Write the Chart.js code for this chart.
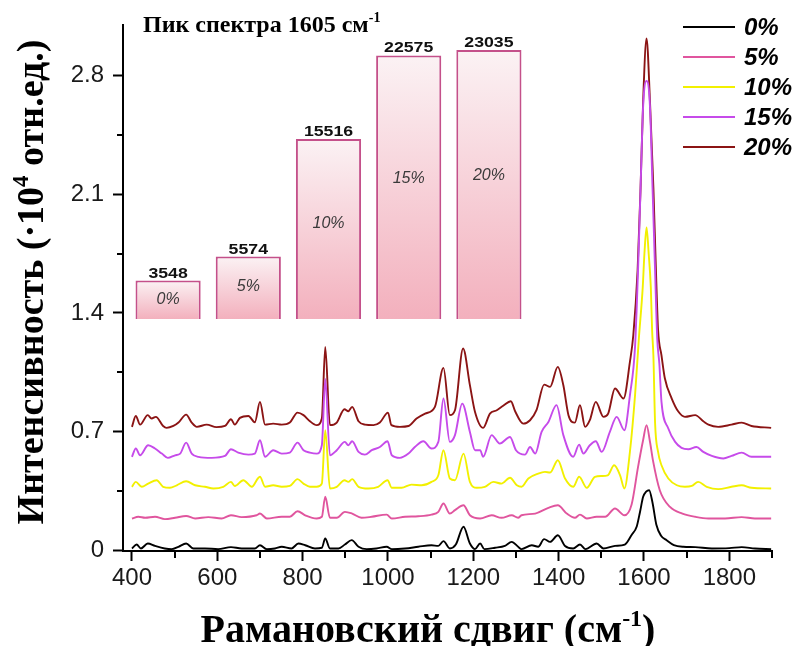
<!DOCTYPE html>
<html>
<head>
<meta charset="utf-8">
<script src="https://cdn.jsdelivr.net/npm/chart.js@4.4.1/dist/chart.umd.min.js"></script>
<style>
  html, body { margin: 0; padding: 0; background: #fff; }
  #wrap { position: relative; width: 795px; height: 646px; }
  #wrap canvas { position: absolute; left: 0; top: 0; }
</style>
</head>
<body>
<div id="wrap">
  <canvas id="spectra" width="795" height="646"></canvas>
  <canvas id="inset" width="795" height="646"></canvas>
</div>
<script>
// Raman spectra at 0..20 % with an inset bar chart of the 1605 cm-1 peak

const seriesLabels = ['0%', '5%', '10%', '15%', '20%'];
const seriesColors = ['#000000', '#E0559E', '#F2F000', '#C64BEA', '#8B1414'];

const wn0 = [400, 411, 421, 437, 454, 477, 493, 509, 527, 544, 571, 602, 632, 657, 688, 700, 716, 735, 751, 774,
  790, 806, 829, 845, 853, 864, 884, 899, 915, 931, 950, 973, 997, 1009, 1040, 1071, 1102, 1118, 1130, 1145,
  1159, 1177, 1192, 1204, 1216, 1226, 1251, 1274, 1290, 1305, 1313, 1337, 1352, 1366, 1380, 1398, 1415, 1434, 1450, 1463,
  1489, 1505, 1532, 1555, 1571, 1583, 1591, 1598, 1605, 1612, 1620, 1629, 1640, 1653, 1670, 1692, 1720, 1759, 1800, 1829,
  1860, 1898];
const int0 = [0.010, 0.033, 0.010, 0.039, 0.025, 0.010, 0.006, 0.020, 0.039, 0.010, 0.010, 0.006, 0.018, 0.010, 0.010, 0.029, 0.006, 0.010, 0.020, 0.010,
  0.039, 0.029, 0.010, 0.014, 0.069, 0.010, 0.010, 0.033, 0.059, 0.020, 0.006, 0.010, 0.020, 0.006, 0.010, 0.020, 0.029, 0.025, 0.053, 0.010,
  0.033, 0.138, 0.039, 0.006, 0.039, 0.006, 0.014, 0.025, 0.049, 0.020, 0.006, 0.029, 0.020, 0.065, 0.049, 0.088, 0.025, 0.010, 0.033, 0.006,
  0.039, 0.010, 0.025, 0.033, 0.090, 0.140, 0.230, 0.315, 0.345, 0.354, 0.280, 0.150, 0.085, 0.059, 0.030, 0.020, 0.018, 0.010, 0.012, 0.018,
  0.010, 0.006];

const wn5 = [400, 415, 431, 454, 477, 501, 527, 548, 579, 610, 632, 657, 692, 700, 716, 751, 770, 788, 806, 833,
  845, 853, 864, 880, 899, 916, 938, 962, 997, 1009, 1040, 1071, 1102, 1118, 1130, 1145, 1157, 1177, 1192, 1216,
  1243, 1266, 1290, 1305, 1313, 1345, 1376, 1398, 1419, 1438, 1450, 1466, 1489, 1509, 1532, 1554, 1571, 1586, 1598, 1606,
  1614, 1621, 1637, 1661, 1690, 1720, 1751, 1790, 1829, 1860, 1898];
const int5 = [0.187, 0.197, 0.191, 0.197, 0.183, 0.191, 0.202, 0.187, 0.195, 0.187, 0.206, 0.195, 0.206, 0.216, 0.187, 0.197, 0.197, 0.230, 0.206, 0.187,
  0.197, 0.315, 0.191, 0.191, 0.226, 0.216, 0.191, 0.197, 0.210, 0.187, 0.197, 0.200, 0.210, 0.226, 0.275, 0.216, 0.236, 0.265, 0.206, 0.187,
  0.206, 0.191, 0.206, 0.191, 0.206, 0.216, 0.250, 0.265, 0.216, 0.191, 0.210, 0.187, 0.197, 0.197, 0.246, 0.206, 0.270, 0.490, 0.650, 0.738,
  0.640, 0.530, 0.354, 0.255, 0.216, 0.197, 0.187, 0.187, 0.195, 0.187, 0.187];

const wn10 = [400, 409, 423, 438, 458, 473, 489, 505, 527, 548, 571, 591, 614, 632, 641, 661, 681, 695, 700, 712,
  731, 751, 770, 788, 802, 817, 833, 845, 853, 864, 880, 898, 907, 916, 931, 954, 977, 999, 1009, 1032,
  1055, 1079, 1102, 1118, 1130, 1145, 1157, 1177, 1192, 1208, 1227, 1247, 1266, 1286, 1302, 1313, 1329, 1352, 1368, 1380,
  1398, 1415, 1434, 1448, 1466, 1485, 1501, 1515, 1530, 1544, 1554, 1567, 1579, 1588, 1597, 1601, 1606, 1611, 1616, 1619,
  1622, 1626, 1633, 1641, 1657, 1677, 1696, 1712, 1727, 1747, 1774, 1805, 1829, 1852, 1898];
const int10 = [0.374, 0.403, 0.374, 0.393, 0.413, 0.374, 0.368, 0.383, 0.407, 0.383, 0.374, 0.364, 0.374, 0.403, 0.379, 0.413, 0.374, 0.423, 0.433, 0.374,
  0.383, 0.374, 0.379, 0.419, 0.393, 0.374, 0.374, 0.393, 0.708, 0.364, 0.374, 0.413, 0.403, 0.419, 0.374, 0.364, 0.374, 0.413, 0.368, 0.368,
  0.387, 0.383, 0.403, 0.442, 0.590, 0.423, 0.413, 0.570, 0.403, 0.368, 0.374, 0.403, 0.393, 0.427, 0.383, 0.374, 0.423, 0.452, 0.462, 0.458,
  0.531, 0.423, 0.374, 0.433, 0.368, 0.433, 0.438, 0.442, 0.501, 0.442, 0.364, 0.580, 0.914, 1.250, 1.550, 1.750, 1.905, 1.750, 1.550, 1.300,
  1.150, 0.750, 0.580, 0.501, 0.423, 0.383, 0.374, 0.379, 0.403, 0.374, 0.360, 0.374, 0.383, 0.368, 0.364];

const wn15 = [400, 409, 419, 438, 454, 470, 484, 501, 513, 527, 540, 556, 587, 618, 632, 649, 673, 688, 700, 712,
  731, 751, 770, 788, 802, 817, 833, 845, 853, 864, 880, 899, 907, 916, 931, 946, 962, 981, 999, 1009,
  1028, 1048, 1063, 1083, 1102, 1118, 1130, 1145, 1157, 1174, 1192, 1204, 1216, 1223, 1243, 1262, 1286, 1300, 1321, 1333,
  1345, 1360, 1376, 1395, 1411, 1434, 1448, 1458, 1473, 1487, 1501, 1520, 1536, 1554, 1567, 1579, 1586, 1592, 1598, 1606,
  1614, 1620, 1626, 1631, 1636, 1641, 1657, 1673, 1688, 1704, 1723, 1739, 1759, 1786, 1805, 1829, 1852, 1898];
const int15 = [0.551, 0.600, 0.560, 0.619, 0.600, 0.570, 0.545, 0.560, 0.570, 0.635, 0.570, 0.551, 0.545, 0.556, 0.596, 0.576, 0.564, 0.570, 0.649, 0.551,
  0.590, 0.570, 0.576, 0.635, 0.590, 0.576, 0.570, 0.619, 1.010, 0.560, 0.590, 0.639, 0.619, 0.643, 0.580, 0.564, 0.590, 0.609, 0.643, 0.560,
  0.545, 0.570, 0.609, 0.643, 0.600, 0.639, 0.895, 0.639, 0.679, 0.865, 0.698, 0.590, 0.590, 0.551, 0.679, 0.629, 0.668, 0.590, 0.564, 0.609,
  0.570, 0.698, 0.757, 0.856, 0.679, 0.551, 0.623, 0.570, 0.619, 0.643, 0.580, 0.698, 0.787, 0.708, 0.914, 1.200, 1.650, 2.140, 2.620, 2.770,
  2.620, 2.140, 1.650, 1.250, 1.100, 0.875, 0.718, 0.639, 0.604, 0.596, 0.609, 0.580, 0.556, 0.541, 0.556, 0.576, 0.551, 0.551];

const wn20 = [400, 409, 419, 437, 446, 456, 473, 481, 497, 509, 527, 540, 552, 575, 598, 618, 632, 641, 653, 673,
  688, 700, 712, 731, 751, 770, 788, 802, 817, 833, 845, 853, 864, 880, 898, 907, 916, 931, 946, 966,
  981, 1000, 1008, 1028, 1048, 1067, 1087, 1110, 1130, 1145, 1157, 1176, 1192, 1204, 1223, 1239, 1255, 1270, 1288, 1298,
  1317, 1333, 1348, 1366, 1380, 1398, 1411, 1423, 1438, 1450, 1462, 1473, 1487, 1505, 1516, 1532, 1552, 1567, 1575, 1585,
  1592, 1598, 1606, 1614, 1622, 1628, 1633, 1641, 1649, 1665, 1680, 1696, 1720, 1739, 1751, 1774, 1805, 1829, 1852, 1898];
const int20 = [0.728, 0.792, 0.741, 0.797, 0.777, 0.787, 0.733, 0.722, 0.733, 0.753, 0.800, 0.753, 0.728, 0.741, 0.726, 0.733, 0.773, 0.741, 0.781, 0.792,
  0.755, 0.875, 0.741, 0.747, 0.741, 0.753, 0.812, 0.797, 0.761, 0.738, 0.777, 1.200, 0.738, 0.753, 0.832, 0.820, 0.846, 0.761, 0.741, 0.738,
  0.753, 0.812, 0.738, 0.728, 0.733, 0.777, 0.806, 0.846, 1.076, 0.797, 0.826, 1.190, 0.974, 0.816, 0.722, 0.806, 0.826, 0.852, 0.879, 0.820,
  0.747, 0.767, 0.826, 0.977, 0.964, 1.082, 0.973, 0.797, 0.753, 0.856, 0.728, 0.767, 0.875, 0.787, 0.806, 0.954, 0.895, 1.111, 1.270, 1.650,
  2.140, 2.650, 3.020, 2.650, 2.140, 1.650, 1.300, 1.150, 1.013, 0.895, 0.820, 0.787, 0.797, 0.761, 0.741, 0.728, 0.741, 0.753, 0.733, 0.722];

const xMajorTicks = [400, 600, 800, 1000, 1200, 1400, 1600, 1800];
const xMinorTicks = [500, 700, 900, 1100, 1300, 1500, 1700, 1900];
const yMajorTicks = [0, 0.7, 1.4, 2.1, 2.8];
const yMinorTicks = [0.35, 1.05, 1.75, 2.45];

// inset: peak intensity at 1605 cm-1
const barLabels = ['0%', '5%', '10%', '15%', '20%'];
const barValues = [3548, 5574, 15516, 22575, 23035];

const xTitleRuns = [{ text: 'Рамановский сдвиг (см' }, { text: '-1', sup: true }, { text: ')' }];
const yTitleRuns = [{ text: 'Интенсивность (·10' }, { text: '4', sup: true }, { text: ' отн.ед.)' }];
const insetTitleRuns = [{ text: 'Пик спектра 1605 см' }, { text: '-1', sup: true }];

const SERIF = '"Liberation Serif", "Times New Roman", serif';
const SANS = '"Liberation Sans", Arial, sans-serif';

function runFont(run, size) {
    const s = run.sup ? Math.round(size * 0.6) : size;
    return 'bold ' + s + 'px ' + SERIF;
}

function drawRich(ctx, runs, x, y, size, align) {
    let total = 0;
    runs.forEach(r => {
        ctx.font = runFont(r, size);
        total += ctx.measureText(r.text).width;
    });
    let cx = align === 'center' ? x - total / 2 : x;
    ctx.textBaseline = 'alphabetic';
    ctx.textAlign = 'left';
    runs.forEach(r => {
        ctx.font = runFont(r, size);
        ctx.fillText(r.text, cx, r.sup ? y - size * 0.4 : y);
        cx += ctx.measureText(r.text).width;
    });
}

const decorations = {
    id: 'decorations',
    afterDraw(chart) {
        const ctx = chart.ctx;
        const area = chart.chartArea;
        const xs = chart.scales.x;
        const ys = chart.scales.y;
        ctx.save();

        // minor ticks (shorter than the major ones)
        ctx.strokeStyle = '#000';
        ctx.lineWidth = 2;
        ctx.beginPath();
        xMinorTicks.forEach(v => {
            const px = Math.round(xs.getPixelForValue(v));
            ctx.moveTo(px, area.bottom);
            ctx.lineTo(px, area.bottom + 7);
        });
        yMinorTicks.forEach(v => {
            const py = Math.round(ys.getPixelForValue(v));
            ctx.moveTo(area.left, py);
            ctx.lineTo(area.left - 6, py);
        });
        ctx.stroke();

        // axis titles
        ctx.fillStyle = '#000';
        drawRich(ctx, xTitleRuns, 428, 642, 40, 'center');
        ctx.save();
        ctx.translate(43, 282);
        ctx.rotate(-Math.PI / 2);
        drawRich(ctx, yTitleRuns, 0, 0, 38, 'center');
        ctx.restore();

        // legend
        chart.data.datasets.forEach((ds, i) => {
            const y = 27 + i * 30;
            ctx.strokeStyle = ds.borderColor;
            ctx.lineWidth = 2;
            ctx.beginPath();
            ctx.moveTo(683, y);
            ctx.lineTo(735, y);
            ctx.stroke();
            ctx.fillStyle = '#000';
            ctx.font = 'italic bold 24px ' + SANS;
            ctx.textBaseline = 'middle';
            ctx.textAlign = 'left';
            ctx.fillText(ds.label, 744, y + 1);
        });
        ctx.restore();
    }
};

const datasets = seriesLabels.map((label, i) => {
    const xs = [wn0, wn5, wn10, wn15, wn20][i];
    const ys = [int0, int5, int10, int15, int20][i];
    return {
        label: label,
        data: xs.map((x, j) => ({ x: x, y: ys[j] })),
        borderColor: seriesColors[i],
        backgroundColor: seriesColors[i],
        borderWidth: 1.9,
        pointRadius: 0,
        cubicInterpolationMode: 'monotone',
        fill: false
    };
});

new Chart(document.getElementById('spectra'), {
    type: 'line',
    data: { datasets: datasets },
    options: {
        responsive: false,
        animation: false,
        layout: { padding: { top: 25, right: 23, left: 0, bottom: 0 } },
        plugins: {
            legend: { display: false },
            tooltip: { enabled: false }
        },
        scales: {
            x: {
                type: 'linear',
                min: 379,
                max: 1900,
                afterBuildTicks: s => { s.ticks = xMajorTicks.map(v => ({ value: v })); },
                afterFit: s => { s.height = 95; },
                ticks: {
                    autoSkip: false,
                    maxRotation: 0,
                    padding: 3,
                    color: '#1a1a1a',
                    font: { family: SANS, size: 24 },
                    callback: v => String(v)
                },
                grid: { drawOnChartArea: false, drawTicks: true, tickLength: 10, tickWidth: 2, tickColor: '#000' },
                border: { display: true, color: '#000', width: 2 }
            },
            y: {
                type: 'linear',
                min: -0.005,
                max: 3.1,
                afterBuildTicks: s => { s.ticks = yMajorTicks.map(v => ({ value: v })); },
                afterFit: s => { s.width = 123; },
                ticks: {
                    autoSkip: false,
                    padding: 9,
                    color: '#1a1a1a',
                    font: { family: SANS, size: 24 },
                    callback: v => (v === 0 ? '0' : v.toFixed(1))
                },
                grid: { drawOnChartArea: false, drawTicks: true, tickLength: 10, tickWidth: 2, tickColor: '#000' },
                border: { display: true, color: '#000', width: 2 }
            }
        }
    },
    plugins: [decorations]
});

// ---- inset bar chart ----
const insetLabels = {
    id: 'insetLabels',
    afterDatasetsDraw(chart) {
        const ctx = chart.ctx;
        const meta = chart.getDatasetMeta(0);
        ctx.save();
        meta.data.forEach((bar, i) => {
            // value above the bar, slightly wide like the original
            ctx.save();
            ctx.translate(bar.x, bar.y - 3);
            ctx.scale(1.18, 1);
            ctx.font = 'bold 15px ' + SANS;
            ctx.fillStyle = '#111';
            ctx.textAlign = 'center';
            ctx.textBaseline = 'alphabetic';
            ctx.fillText(String(barValues[i]), 0, 0);
            ctx.restore();

            // percentage inside the bar
            const h = bar.base - bar.y;
            ctx.font = 'italic 16px ' + SANS;
            ctx.fillStyle = '#3a3a3a';
            ctx.textAlign = 'center';
            ctx.textBaseline = 'middle';
            ctx.fillText(barLabels[i], bar.x, bar.y + h / 2 - h * 0.04);
        });
        ctx.fillStyle = '#000';
        drawRich(ctx, insetTitleRuns, 143, 32, 24, 'left');
        ctx.restore();
    }
};

new Chart(document.getElementById('inset'), {
    type: 'bar',
    data: {
        labels: barLabels,
        datasets: [{
            data: barValues,
            backgroundColor: c => {
                const chart = c.chart;
                const area = chart.chartArea;
                if (!area || c.type !== 'data') return '#F6C6CF';
                const top = chart.scales.y.getPixelForValue(c.raw);
                const g = chart.ctx.createLinearGradient(0, top, 0, area.bottom);
                g.addColorStop(0, '#FBF2F4');
                g.addColorStop(1, '#F3B0BD');
                return g;
            },
            borderColor: '#C4508A',
            borderWidth: 2,
            borderSkipped: 'bottom',
            categoryPercentage: 1,
            barPercentage: 0.8125
        }]
    },
    options: {
        responsive: false,
        animation: false,
        layout: { padding: { left: 128, right: 266, top: 20, bottom: 327 } },
        plugins: {
            legend: { display: false },
            tooltip: { enabled: false }
        },
        scales: {
            x: { display: false },
            y: { display: false, min: 300, max: 25570 }
        }
    },
    plugins: [insetLabels]
});
</script>
</body>
</html>
